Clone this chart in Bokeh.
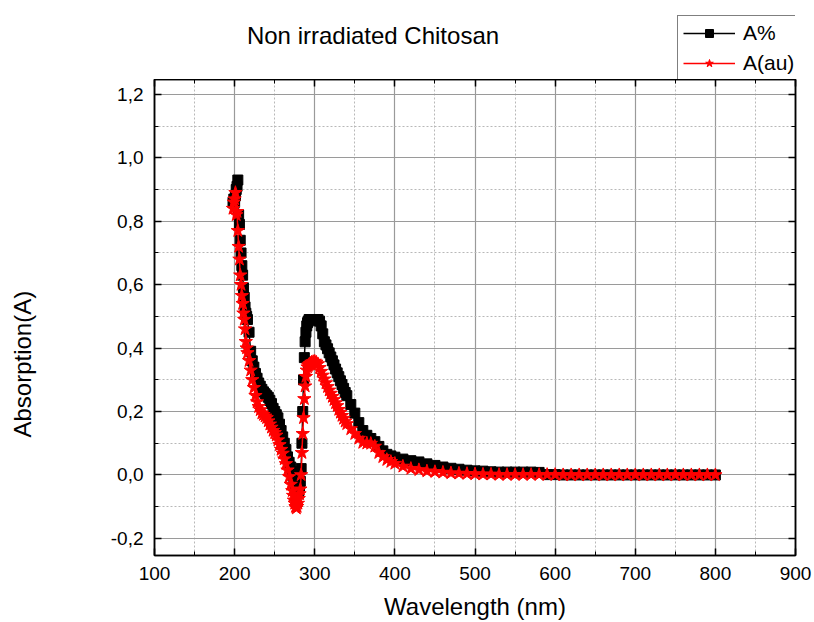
from bokeh.plotting import figure
from bokeh.layouts import column
from bokeh.models import (LinearAxis, SingleIntervalTicker, CustomJSTickFormatter, Label,
                          Legend, LegendItem, Range1d, Grid, ColumnDataSource)
from bokeh.embed import file_html
from bokeh.resources import INLINE

# ---------------- data ----------------
wavelength = [
    198, 199, 200, 201, 202, 203, 204, 205, 206, 207, 208, 209, 210, 211, 212, 213, 214, 215, 216,
    218, 220, 222, 224, 226, 228, 230, 232, 234, 236, 238, 240, 242, 244, 246, 248, 250, 252, 254,
    256, 258, 260, 262, 264, 266, 268, 270, 272,
    273, 274, 275, 276, 277, 278, 279, 280, 281, 282, 283, 284, 285, 286, 287, 288, 289, 290, 291,
    292, 293, 294, 295, 296,
    298, 300, 302, 304, 306, 308, 310, 312, 314, 316, 318, 320, 322, 324, 326, 328, 330, 332, 334,
    336, 338, 340,
    345, 350, 355, 360, 365, 370, 375, 380, 385, 390, 395, 400,
    410, 420, 430, 440, 450, 460, 470, 480, 490, 500, 510, 520, 530, 540, 550, 560, 570, 580, 590,
    600, 610, 620, 630, 640, 650, 660, 670, 680, 690, 700, 710, 720, 730, 740, 750, 760, 770, 780,
    790, 800,
]

a_percent = [
    0.86, 0.87, 0.86, 0.88, 0.90, 0.91, 0.93, 0.82, 0.79, 0.74, 0.70, 0.66, 0.63, 0.59, 0.56, 0.53, 0.51, 0.50, 0.49,
    0.45, 0.39, 0.36, 0.34, 0.32, 0.305, 0.29, 0.28, 0.27, 0.262, 0.256, 0.25, 0.245, 0.235, 0.225, 0.21, 0.20, 0.19, 0.18,
    0.16, 0.14, 0.12, 0.10, 0.08, 0.057, 0.04, 0.025, 0.01,
    0.0, -0.01, -0.02, -0.03, -0.045, -0.055, -0.06, -0.05, -0.035, -0.02, 0.02, 0.10, 0.20, 0.30, 0.37, 0.42, 0.45, 0.47, 0.48,
    0.485, 0.49, 0.49, 0.49, 0.49,
    0.49, 0.49, 0.49, 0.49, 0.485, 0.47, 0.445, 0.42, 0.41, 0.398, 0.385, 0.372, 0.36, 0.347, 0.334, 0.322, 0.31, 0.297, 0.285,
    0.273, 0.26, 0.25,
    0.222, 0.195, 0.165, 0.14, 0.125, 0.115, 0.105, 0.09, 0.076, 0.065, 0.06, 0.056,
    0.05, 0.045, 0.041, 0.035, 0.03, 0.025, 0.021, 0.018, 0.015, 0.013, 0.012, 0.01, 0.009, 0.009, 0.009, 0.009, 0.009, 0.008, 0.001,
    0.001, 0.0, 0.0, 0.0, 0.0, 0.0, 0.0, 0.0, 0.0, 0.0, 0.0, 0.0, 0.0, 0.0, 0.0, 0.0, 0.0, 0.0, 0.0,
    0.0, 0.0,
]

a_au = [
    0.84, 0.86, 0.87, 0.89, 0.82, 0.83, 0.77, 0.72, 0.68, 0.63, 0.60, 0.565, 0.54, 0.51, 0.49, 0.46, 0.42, 0.40, 0.385,
    0.36, 0.33, 0.30, 0.275, 0.25, 0.23, 0.215, 0.205, 0.195, 0.19, 0.185, 0.18, 0.17, 0.16, 0.15, 0.14, 0.133, 0.125, 0.11,
    0.095, 0.08, 0.068, 0.05, 0.035, 0.015, -0.006, -0.03, -0.05,
    -0.065, -0.08, -0.09, -0.10, -0.105, -0.10, -0.09, -0.075, -0.06, -0.045, 0.0, 0.07, 0.13, 0.18, 0.24, 0.28, 0.31, 0.33, 0.34,
    0.345, 0.348, 0.35, 0.352, 0.355,
    0.357, 0.358, 0.355, 0.35, 0.338, 0.326, 0.314, 0.302, 0.29, 0.278, 0.267, 0.257, 0.247, 0.237, 0.227, 0.218, 0.206, 0.197, 0.187,
    0.178, 0.169, 0.161,
    0.145, 0.13, 0.115, 0.102, 0.10, 0.099, 0.09, 0.07, 0.057, 0.048, 0.042, 0.036,
    0.027, 0.02, 0.016, 0.012, 0.01, 0.008, 0.006, 0.005, 0.004, 0.003, 0.002, 0.002, 0.001, 0.001, 0.001, 0.001, 0.001, 0.001, 0.001,
    0.001, 0.0, 0.0, 0.0, 0.0, 0.0, 0.0, 0.0, 0.0, 0.0, 0.0, 0.0, 0.0, 0.0, 0.0, 0.0, 0.0, 0.0, 0.0,
    0.0, 0.0,
]

assert len(wavelength) == len(a_percent) == len(a_au)

series_labels = ["A%", "A(au)"]
title_text = "Non irradiated Chitosan"
x_label = "Wavelength (nm)"
y_label = "Absorption(A)"

FONT = "Liberation Sans"
NBSP = "\u00a0"
BLACK = "black"
RED = "#ff0000"

X_START, X_END = 100, 900
Y_START, Y_END = -0.254, 1.247
BORDER_L, BORDER_R = 154, 17
WIDTH = 812

src = ColumnDataSource(dict(x=wavelength, pct=a_percent, au=a_au))

# ---------------- header strip: title + legend (above the plot frame) ----------------
HEAD_H = 79
head = figure(width=WIDTH, height=HEAD_H, output_backend="svg", toolbar_location=None,
              x_range=Range1d(X_START, X_END), y_range=Range1d(0, HEAD_H),
              min_border_left=BORDER_L, min_border_right=BORDER_R,
              min_border_top=0, min_border_bottom=0,
              x_axis_type=None, y_axis_type=None)
head.outline_line_color = None
head.xgrid.visible = False
head.ygrid.visible = False
head.background_fill_color = "white"
head.border_fill_color = "white"
# the header's copies of the series use a y range that keeps them out of its view;
# they only provide the legend swatches
head.extra_y_ranges = {"offview": Range1d(5, 6)}

head.add_layout(Label(x=372.7, y=44, text=title_text, text_align="center",
                      text_baseline="middle", text_font=FONT, text_font_size="24px",
                      text_color="black"))

hl1 = head.line("x", "pct", source=src, y_range_name="offview", line_color=BLACK, line_width=1.5)
hs1 = head.scatter("x", "pct", source=src, y_range_name="offview", marker="square", size=10,
                   fill_color=BLACK, line_color=BLACK)
hl2 = head.line("x", "au", source=src, y_range_name="offview", line_color=RED, line_width=1.5)
hs2 = head.scatter("x", "au", source=src, y_range_name="offview", marker="star", size=14,
                   fill_color=RED, line_color=RED)

legend = Legend(items=[LegendItem(label=series_labels[0], renderers=[hl1, hs1]),
                       LegendItem(label=series_labels[1], renderers=[hl2, hs2])],
                location=(523, -2))
legend.padding = 5
legend.spacing = 6
legend.margin = 0
legend.glyph_width = 52
legend.glyph_height = 20
legend.label_standoff = 8
legend.label_text_font = FONT
legend.label_text_font_size = "21px"
legend.label_text_color = "black"
legend.border_line_color = "black"
legend.border_line_width = 1.5
legend.background_fill_color = "white"
legend.background_fill_alpha = 1.0
head.add_layout(legend)

# ---------------- main plot ----------------
p = figure(width=WIDTH, height=543, output_backend="svg", toolbar_location=None,
           x_range=Range1d(X_START, X_END), y_range=Range1d(Y_START, Y_END),
           min_border_left=BORDER_L, min_border_right=BORDER_R, min_border_top=0,
           min_border_bottom=67, x_axis_type=None, y_axis_type=None)
p.background_fill_color = "white"
p.border_fill_color = "white"
p.outline_line_color = "black"
p.outline_line_width = 1.5

xticker = SingleIntervalTicker(interval=100, num_minor_ticks=2)
yticker = SingleIntervalTicker(interval=0.2, num_minor_ticks=2)
yfmt = CustomJSTickFormatter(code="return tick.toFixed(1).replace('.', ',');")
blank = CustomJSTickFormatter(code="return '';")


def style_axis(ax, show_labels):
    ax.axis_line_color = "black"
    ax.axis_line_width = 1.5
    ax.major_tick_in = 7
    ax.major_tick_out = 0
    ax.minor_tick_in = 4
    ax.minor_tick_out = 0
    ax.major_tick_line_color = "black"
    ax.major_tick_line_width = 1.5
    ax.minor_tick_line_color = "black"
    ax.minor_tick_line_width = 1
    if show_labels:
        ax.major_label_text_font = FONT
        ax.major_label_text_font_size = "19px"
        ax.major_label_text_color = "black"
        ax.axis_label_text_font = FONT
        ax.axis_label_text_font_size = "24px"
        ax.axis_label_text_font_style = "normal"
        ax.axis_label_text_color = "black"
    else:
        ax.major_label_standoff = 0


bottom = LinearAxis(ticker=xticker, axis_label=x_label)
style_axis(bottom, True)
bottom.major_label_standoff = 11
bottom.axis_label_standoff = 10

top = LinearAxis(ticker=xticker, formatter=blank)
style_axis(top, False)

# trailing no-break spaces shift the centred vertical label down, as in the reference
left = LinearAxis(ticker=yticker, formatter=yfmt, axis_label=y_label + NBSP * 14)
style_axis(left, True)
left.major_label_standoff = 11
left.axis_label_standoff = 72

right = LinearAxis(ticker=yticker, formatter=blank)
style_axis(right, False)

p.add_layout(bottom, "below")
p.add_layout(top, "above")
p.add_layout(left, "left")
p.add_layout(right, "right")

for dim, tk in ((0, xticker), (1, yticker)):
    g = Grid(dimension=dim, ticker=tk)
    g.grid_line_color = "#9a9a9a"
    g.grid_line_width = 1.2
    g.minor_grid_line_color = "#b8b8b8"
    g.minor_grid_line_width = 1
    g.minor_grid_line_dash = "2 2"
    p.add_layout(g)

p.line("x", "pct", source=src, line_color=BLACK, line_width=1.5)
p.scatter("x", "pct", source=src, marker="square", size=10, fill_color=BLACK, line_color=BLACK)
p.line("x", "au", source=src, line_color=RED, line_width=1.5)
p.scatter("x", "au", source=src, marker="star", size=14, fill_color=RED, line_color=RED)

layout = column(head, p, spacing=0)
open("out.html", "w").write(file_html(layout, INLINE))
